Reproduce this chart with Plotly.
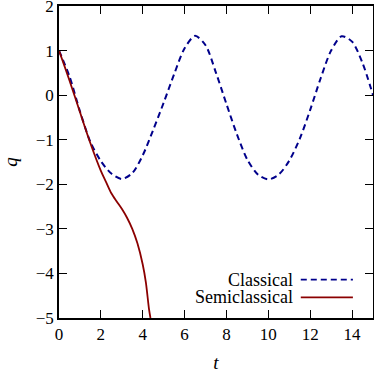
import plotly.graph_objects as go

# Classical trajectory
t_classical = [0, 0.5, 1.0, 1.5, 2.0, 2.5, 3.0, 3.5, 4.0, 4.5, 5.0, 5.5, 6.0, 6.5,
               7.0, 7.5, 8.0, 8.5, 9.0, 9.5, 10.0, 10.5, 11.0, 11.5, 12.0, 12.5,
               13.0, 13.5, 14.0, 14.5, 15.0]
q_classical = [1.0, 0.42, -0.36, -1.05, -1.48, -1.76, -1.88, -1.75, -1.35, -0.78,
               -0.17, 0.47, 1.05, 1.33, 1.12, 0.5, -0.2, -0.88, -1.45, -1.78,
               -1.89, -1.78, -1.47, -0.98, -0.33, 0.38, 1.0, 1.32, 1.2, 0.72, 0.0]

# Semiclassical trajectory
t_semi = [0, 0.5, 1.0, 1.5, 2.0, 2.25, 2.5, 2.75, 3.0, 3.25, 3.5, 3.75, 4.0,
          4.15, 4.3, 4.37]
q_semi = [1.0, 0.33, -0.38, -1.08, -1.7, -1.95, -2.2, -2.38, -2.55, -2.75,
          -3.0, -3.33, -3.8, -4.2, -4.8, -5.0]

series_names = ["Classical", "Semiclassical"]
series_colors = ["#00008b", "#8b0000"]

x_ticks = [0, 2, 4, 6, 8, 10, 12, 14]
y_ticks = [-5, -4, -3, -2, -1, 0, 1, 2]

FONT = "Liberation Serif"

fig = go.Figure()
fig.add_trace(go.Scatter(x=t_classical, y=q_classical, mode="lines",
                         name=series_names[0],
                         line=dict(color=series_colors[0], width=2,
                                   dash="6px,4px", shape="spline", smoothing=0.8),
                         showlegend=False))
fig.add_trace(go.Scatter(x=t_semi, y=q_semi, mode="lines",
                         name=series_names[1],
                         line=dict(color=series_colors[1], width=1.8,
                                   shape="spline", smoothing=0.8),
                         showlegend=False))

# Manual legend (text on the left, line sample on the right)
legend_text_y = [0.121, 0.066]
legend_line_y = [0.123, 0.066]
legend_dash = ["6px,4px", "solid"]
for name, col, ty, ly, dsh in zip(series_names, series_colors, legend_text_y,
                                  legend_line_y, legend_dash):
    fig.add_annotation(x=0.753, y=ty, xref="paper", yref="paper",
                       text=name, showarrow=False, xanchor="right",
                       yanchor="middle",
                       font=dict(family=FONT, size=18, color="black"))
    fig.add_shape(type="line", xref="paper", yref="paper",
                  x0=0.770, x1=0.936, y0=ly, y1=ly,
                  line=dict(color=col, width=1.8, dash=dsh))

axis_common = dict(
    showgrid=False, zeroline=False, showline=True, linecolor="black",
    linewidth=1.5, mirror="ticks", ticks="inside", ticklen=8, tickwidth=1,
    tickcolor="black", tickfont=dict(family=FONT, size=17, color="black"),
    automargin=False, ticklabeloverflow="allow",
)

fig.update_layout(
    width=374, height=375,
    margin=dict(l=59, r=1, t=6, b=57),
    paper_bgcolor="white", plot_bgcolor="white",
    font=dict(family=FONT, size=17, color="black"),
    xaxis=dict(range=[0, 15], tickvals=x_ticks,
               title=dict(text="<i>t</i>", font=dict(family=FONT, size=19, color="black"),
                          standoff=13),
               **axis_common),
    yaxis=dict(range=[-5, 2], tickvals=y_ticks,
               title=dict(text="<i>q</i>", font=dict(family=FONT, size=19, color="black"),
                          standoff=13),
               **axis_common),
)

fig.write_html("out.html", config={"displayModeBar": False},
               post_script="document.body.style.margin='0';document.body.style.overflow='hidden';")
